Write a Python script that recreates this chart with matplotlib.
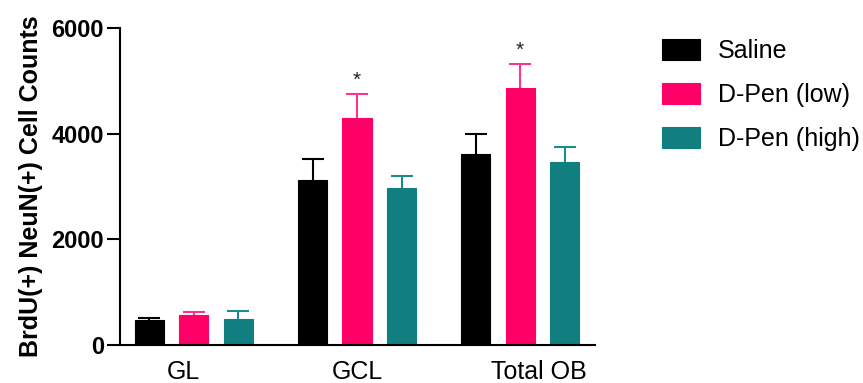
import matplotlib
matplotlib.use('Agg')
import matplotlib.pyplot as plt
import numpy as np

plt.rcParams['font.family'] = ['Liberation Sans', 'DejaVu Sans']

# data
regions = ['GL', 'GCL', 'Total OB']
groups = ['Saline', 'D-Pen (low)', 'D-Pen (high)']
means = {
    'Saline': [480, 3118, 3610],
    'D-Pen (low)': [562, 4291, 4865],
    'D-Pen (high)': [498, 2966, 3470],
}
sems = {
    'Saline': [37, 403, 390],
    'D-Pen (low)': [57, 466, 454],
    'D-Pen (high)': [140, 239, 284],
}
stars = {'D-Pen (low)': ['', '*', '*']}

bar_colors = {'Saline': '#000000', 'D-Pen (low)': '#FF0066', 'D-Pen (high)': '#117F7F'}
err_colors = {'Saline': '#000000', 'D-Pen (low)': '#FF3388', 'D-Pen (high)': '#1A8C8C'}

fig = plt.figure(figsize=(8.63, 3.83), dpi=100)
ax = fig.add_axes([0.139, 0.0992, 0.5505, 0.8277])

x = np.arange(len(regions))
step = 0.273
width = 0.178
# prism places the outer category labels slightly off-centre
label_shift = [-0.065, 0.0, 0.113]

for i, g in enumerate(groups):
    xs = x + (i - 1) * step
    ax.bar(xs, means[g], width, color=bar_colors[g], edgecolor=bar_colors[g],
           linewidth=0.8, label=g, zorder=2)
    eb = ax.errorbar(xs, means[g], yerr=[np.zeros(len(xs)), sems[g]], fmt='none',
                     ecolor=err_colors[g], elinewidth=1.5, capsize=8, capthick=1.5, zorder=1)
    eb[1][0].set_visible(False)  # drop the lower cap
    if g in stars:
        for xx, m, s, st in zip(xs, means[g], sems[g], stars[g]):
            if st:
                ax.annotate(st, (xx, m + s), xytext=(0, 3), textcoords='offset points',
                            ha='center', va='bottom', fontsize=15, color='#222222')

ax.set_xlim(-0.454, 2.46)
ax.set_ylim(0, 6000)
ax.set_yticks([0, 2000, 4000, 6000])
ax.set_xticks(x + np.array(label_shift))
ax.set_xticklabels(regions, fontsize=18)
ax.tick_params(axis='x', length=0, pad=11)
ax.tick_params(axis='y', length=9.5, width=1.5, labelsize=17, pad=2)
for lab in ax.get_yticklabels():
    lab.set_fontweight('bold')

for side in ['top', 'right']:
    ax.spines[side].set_visible(False)
for side in ['left', 'bottom']:
    ax.spines[side].set_linewidth(1.5)

ax.set_ylabel('BrdU(+) NeuN(+) Cell Counts', fontsize=18, fontweight='bold', labelpad=6)

fig.legend(loc='upper left', bbox_to_anchor=(0.755, 0.925), frameon=False,
           fontsize=18, handlelength=1.52, handleheight=0.91, handletextpad=0.72,
           labelspacing=0.8, borderaxespad=0)

fig.savefig('out.png', dpi=100)
